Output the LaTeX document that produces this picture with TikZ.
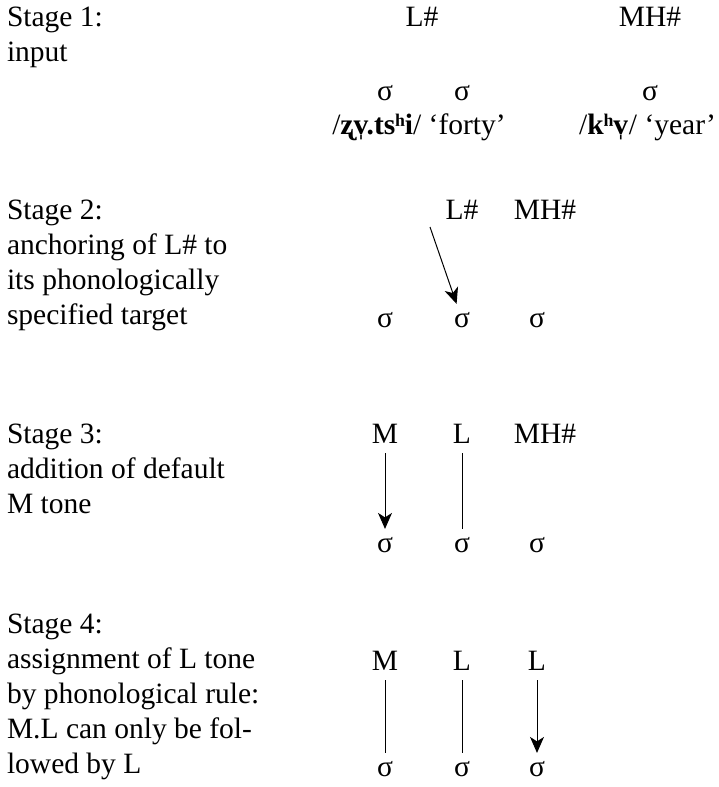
\documentclass[tikz,border=0pt]{standalone}
\usepackage{fontspec}
\setmainfont{Liberation Serif}
\usetikzlibrary{arrows.meta}
\begin{document}
\begin{tikzpicture}[x=1pt,y=-1pt,
  every node/.style={font=\fontsize{29.5pt}{35pt}\selectfont, outer sep=0pt},
  stagetext/.style={anchor=base west, align=left, inner sep=0pt},
  tone/.style={anchor=base, inner xsep=2pt, inner ysep=10pt},
  syl/.style={anchor=base, inner xsep=2pt, inner ysep=8pt},
  gloss/.style={anchor=base, inner sep=0pt},
  link/.style={line width=1pt},
  arr/.style={line width=1pt, -{Stealth[length=16pt,width=14pt,inset=4.5pt]}}]
\useasboundingbox (0,0) rectangle (718,787);

% Stage 1 (anchor = baseline of last line)
\node[stagetext] (t1) at (7,61) {Stage 1:\\input};
\node[tone] (l1) at (422,27) {L\#};
\node[tone] (mh1) at (650,27) {MH\#};
\node[syl] (s1a) at (385,100) {σ};
\node[syl] (s1b) at (462,100) {σ};
\node[syl] (s1c) at (650,100) {σ};
\node[gloss] (g1) at (419,134) {/\textbf{ʐv̩.tsʰi}/ ‘forty’};
\node[gloss,anchor=base east] (g2) at (716,134) {/\textbf{kʰv̩}/ ‘year’};

% Stage 2
\node[stagetext] (t2) at (7,324) {Stage 2:\\anchoring of L\# to\\its phonologically\\specified target};
\node[tone] (l2) at (462,219) {L\#};
\node[tone] (mh2) at (545,219) {MH\#};
\node[syl] (s2a) at (385,327) {σ};
\node[syl] (s2b) at (462,327) {σ};
\node[syl] (s2c) at (537,327) {σ};
\coordinate (a2) at (430,227);
\draw[arr] (a2) -- (s2b);

% Stage 3
\node[stagetext] (t3) at (7,513) {Stage 3:\\addition of default\\M tone};
\node[tone] (m3) at (385,443) {M};
\node[tone] (l3) at (462,443) {L};
\node[tone] (mh3) at (545,443) {MH\#};
\node[syl] (s3a) at (385,552) {σ};
\node[syl] (s3b) at (462,552) {σ};
\node[syl] (s3c) at (537,552) {σ};
\draw[arr] (m3) -- (s3a);
\draw[link] (l3) -- (s3b);

% Stage 4
\node[stagetext] (t4) at (7,773) {Stage 4:\\assignment of L tone\\by phonological rule:\\M.L can only be fol-\\lowed by L};
\node[tone] (m4) at (385,670) {M};
\node[tone] (l4) at (462,670) {L};
\node[tone] (l4b) at (537,670) {L};
\node[syl] (s4a) at (385,776) {σ};
\node[syl] (s4b) at (462,776) {σ};
\node[syl] (s4c) at (537,776) {σ};
\draw[link] (m4) -- (s4a);
\draw[link] (l4) -- (s4b);
\draw[arr] (l4b) -- (s4c);
\end{tikzpicture}
\end{document}
